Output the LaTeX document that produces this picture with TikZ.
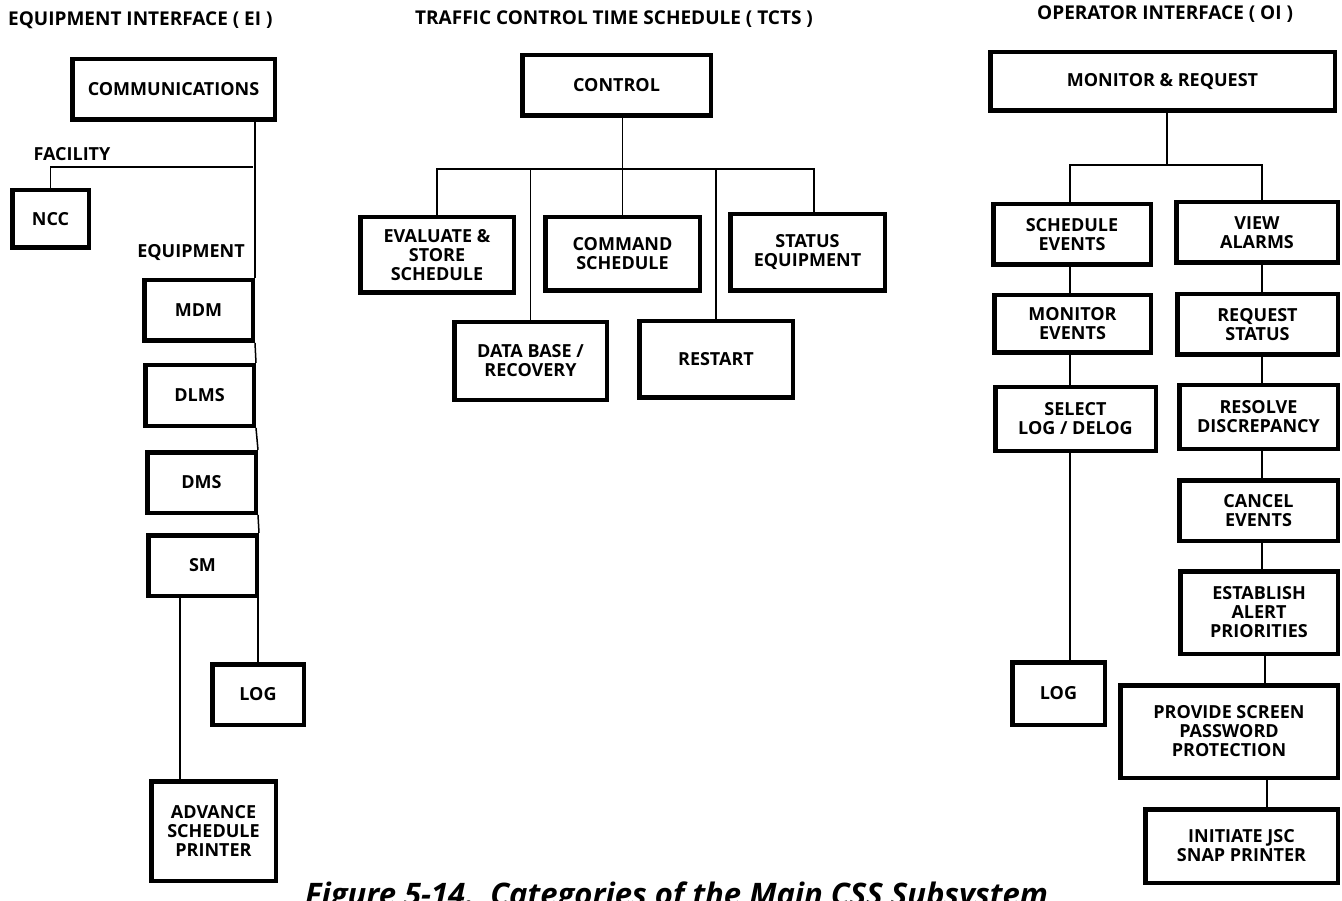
\documentclass[tikz,border=0pt]{standalone}
\usepackage{fontspec}
\setmainfont{Open Sans}
\usetikzlibrary{calc}

% box given by its outer corners (x1,y1)-(x2,y2), in picture units
\newcommand\putbox[6]{%
  \pgfmathsetmacro\boxw{#4-#2-4.5}%
  \pgfmathsetmacro\boxh{#5-#3-4.5}%
  \node[blk, minimum width=\boxw pt, minimum height=\boxh pt]
    (#1) at ({(#2+#4)/2},{(#3+#5)/2}) {#6};%
}

\tikzset{
  blk/.style={draw, line width=4.5pt, rectangle, inner sep=0pt, align=center,
    font=\fontsize{18}{19}\selectfont\bfseries},
  wire/.style={line width=1.5pt},
  grouptitle/.style={anchor=west, inner sep=0pt, font=\fontsize{19}{20}\selectfont\bfseries},
  branchlabel/.style={inner sep=0pt, font=\fontsize{18}{19}\selectfont\bfseries},
}

\begin{document}
\begin{tikzpicture}[x=1pt, y=-1pt]
\fill[white] (0,0) rectangle (1342,901);
\useasboundingbox (0,0) rectangle (1342,901);

% ---------------- group titles
\node[grouptitle] (tei)   at (8,20)    {EQUIPMENT INTERFACE ( EI )};
\node[grouptitle] (ttcts) at (415,19)  {TRAFFIC CONTROL TIME SCHEDULE ( TCTS )};
\node[grouptitle] (toi)   at (1037,14) {OPERATOR INTERFACE ( OI )};

% ---------------- equipment interface
\putbox{comm}{70}{57}{277}{122}{COMMUNICATIONS}
\putbox{ncc}{10}{188}{91}{250}{NCC}
\putbox{mdm}{142}{278}{255}{343}{MDM}
\putbox{dlms}{143}{363}{256}{428}{DLMS}
\putbox{dms}{145}{450}{258}{515}{DMS}
\putbox{sm}{146}{533}{259}{598}{SM}
\putbox{eilog}{210}{662}{306}{727}{LOG}
\putbox{adv}{149}{779}{278}{883}{ADVANCE\\SCHEDULE\\PRINTER}

\node[branchlabel] (lfac) at (72,154)  {FACILITY};
\node[branchlabel] (lequ) at (191,253) {EQUIPMENT};

\coordinate (facj) at (253,167);
\draw[wire] (comm.south -| mdm.north east) -- (mdm.north east);
\draw[wire] (ncc.north) |- (facj);
\draw[wire] (mdm.south east) -- (dlms.north east);
\draw[wire] (dlms.south east) -- (dms.north east);
\draw[wire] (dms.south east) -- (sm.north east);
\draw[wire] (sm.south -| eilog.north) -- (eilog.north);
\draw[wire] ([xshift=-22.5pt]sm.south) -- ([xshift=-22.5pt]sm.south |- adv.north);

% ---------------- traffic control time schedule
\putbox{ctrl}{520}{53}{713}{118}{CONTROL}
\putbox{evl}{358}{215}{516}{295}{EVALUATE \&\\STORE\\SCHEDULE}
\putbox{cmd}{543}{215}{702}{293}{COMMAND\\SCHEDULE}
\putbox{stat}{728}{212}{887}{293}{STATUS\\EQUIPMENT}
\putbox{dbr}{452}{320}{609}{402}{DATA BASE /\\RECOVERY}
\putbox{rst}{637}{319}{795}{400}{RESTART}

\coordinate (tbus) at (0,169);
\draw[wire] (ctrl.south -| cmd.north) -- (cmd.north);
\draw[wire] (evl.north) |- ([xshift=6.5pt]stat.north |- tbus) -- ([xshift=6.5pt]stat.north);
\draw[wire] (dbr.north |- tbus) -- (dbr.north);
\draw[wire] (rst.north |- tbus) -- (rst.north);

% ---------------- operator interface
\putbox{mreq}{988}{50}{1337}{113}{MONITOR \& REQUEST}
\putbox{sev}{991}{202}{1153}{267}{SCHEDULE\\EVENTS}
\putbox{val}{1174}{200}{1340}{265}{VIEW\\ALARMS}
\putbox{mev}{992}{293}{1153}{355}{MONITOR\\EVENTS}
\putbox{rqs}{1175}{292}{1340}{357}{REQUEST\\STATUS}
\putbox{sel}{993}{385}{1158}{453}{SELECT\\LOG / DELOG}
\putbox{rsd}{1177}{383}{1340}{451}{RESOLVE\\DISCREPANCY}
\putbox{cev}{1177}{478}{1340}{543}{CANCEL\\EVENTS}
\putbox{eap}{1178}{569}{1340}{656}{ESTABLISH\\ALERT\\PRIORITIES}
\putbox{oilog}{1010}{660}{1107}{727}{LOG}
\putbox{psp}{1118}{683}{1340}{780}{PROVIDE SCREEN\\PASSWORD\\PROTECTION}
\putbox{isp}{1143}{807}{1340}{885}{INITIATE JSC\\SNAP PRINTER}

\coordinate (obus) at (0,165);
\coordinate (lx) at (1070,0);
\coordinate (rx) at (1262,0);
\draw[wire] ([xshift=4.5pt]mreq.south) -- ([xshift=4.5pt]mreq.south |- obus);
\draw[wire] (sev.north -| lx) |- (obus -| rx) -- (val.north -| rx);
\draw[wire] (sev.south -| lx) -- (mev.north -| lx);
\draw[wire] (mev.south -| lx) -- (sel.north -| lx);
\draw[wire] (sel.south -| lx) -- (oilog.north -| lx);
\draw[wire] (val.south -| rx) -- (rqs.north -| rx);
\draw[wire] (rqs.south -| rx) -- (rsd.north -| rx);
\draw[wire] (rsd.south -| rx) -- (cev.north -| rx);
\draw[wire] (cev.south -| rx) -- (eap.north -| rx);
\draw[wire] ([xshift=3pt]eap.south -| rx) -- ([xshift=3pt]psp.north -| rx);
\draw[wire] ([xshift=5pt]psp.south -| rx) -- ([xshift=5pt]isp.north -| rx);

% ---------------- caption, running off the lower edge of the page
\node[anchor=base west, inner sep=0pt, font=\fontsize{31}{34}\selectfont\bfseries\itshape]
  (cap) at (305,905) {Figure 5-14.\ \ Categories of the Main CSS Subsystem};
\end{tikzpicture}
\end{document}
